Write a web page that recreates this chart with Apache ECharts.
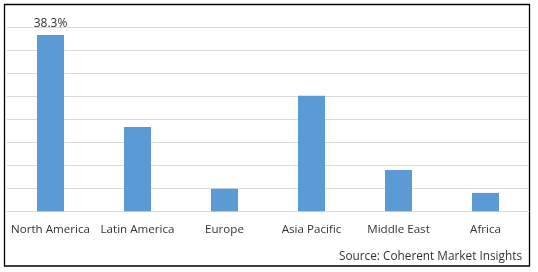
<!DOCTYPE html>
<html>
<head>
<meta charset="utf-8">
<script src="https://cdn.jsdelivr.net/npm/echarts@6/dist/echarts.min.js"></script>
<style>
html,body{margin:0;padding:0;background:#fff;}
#main{width:538px;height:272px;}
</style>
</head>
<body>
<div id="main"></div>
<script>
// regions and their share (%)
var regions = ['North America', 'Latin America', 'Europe', 'Asia Pacific', 'Middle East', 'Africa'];
var shares = [38.3, 18.3, 4.9, 25.1, 9.0, 4.0];
var shownLabels = ['38.3%', '', '', '', '', ''];
var yTicks = [0, 5, 10, 15, 20, 25, 30, 35, 40];

var chart = echarts.init(document.getElementById('main'));

var barData = [];
for (var i = 0; i < shares.length; i++) {
	barData.push({
		value: shares[i],
		label: { show: shownLabels[i] !== '', formatter: shownLabels[i] }
	});
}

chart.setOption({
	backgroundColor: '#fff',
	animation: false,
	textStyle: { fontFamily: 'Open Sans' },
	grid: { left: 7, right: 9, top: 27.3, bottom: 60.7, containLabel: false },
	xAxis: {
		type: 'category',
		data: regions,
		axisTick: { show: false },
		axisLine: { lineStyle: { color: '#d9d9d9', width: 1 } },
		axisLabel: {
			interval: 0,
			margin: 12,
			color: '#333',
			fontSize: 11.6,
			fontFamily: 'Open Sans'
		}
	},
	yAxis: {
		type: 'value',
		min: yTicks[0],
		max: yTicks[yTicks.length - 1],
		interval: 5,
		axisLabel: { show: false },
		axisLine: { show: false },
		axisTick: { show: false },
		splitLine: { lineStyle: { color: '#d9d9d9', width: 1 } }
	},
	series: [{
		type: 'bar',
		data: barData,
		barWidth: 27,
		itemStyle: { color: '#5b9bd5' },
		label: {
			position: 'top',
			distance: 6,
			color: '#333',
			fontSize: 12,
			fontFamily: 'Open Sans'
		}
	}],
	graphic: [
		{
			type: 'rect',
			shape: { x: 4.5, y: 4.5, width: 525, height: 261.5 },
			style: { fill: 'none', stroke: '#000', lineWidth: 1.3 },
			silent: true
		},
		{
			type: 'text',
			right: 16,
			top: 251,
			style: {
				text: 'Source: Coherent Market Insights',
				fill: '#333',
				font: '11.8px "Open Sans"'
			}
		}
	]
});
</script>
</body>
</html>
